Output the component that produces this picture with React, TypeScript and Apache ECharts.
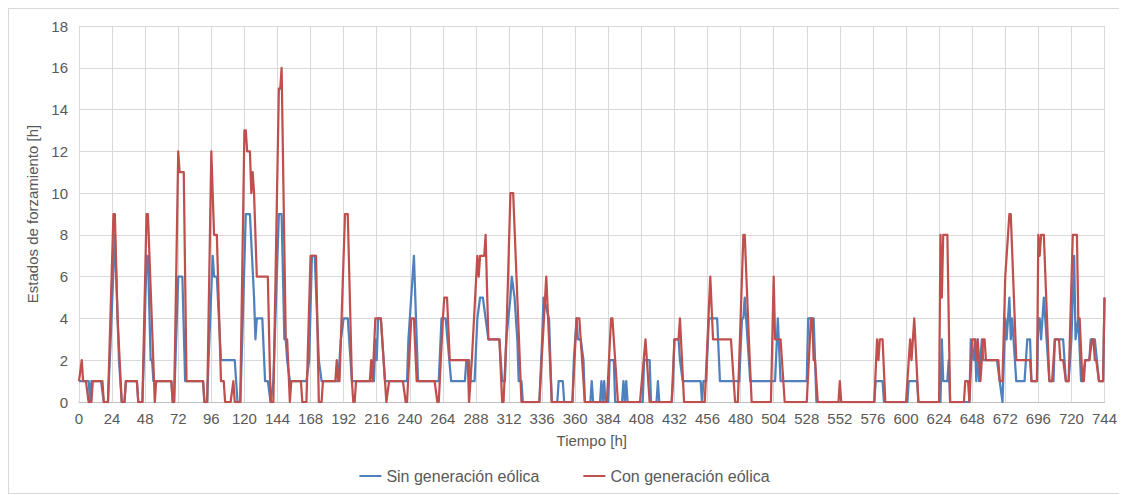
import React, { useEffect, useRef } from "react";
import * as echarts from "echarts";

// Hour ticks and value ticks
const xTicks = [0, 744, 24];
const yTicks = [0, 18, 2];

const seriesNames = ["Sin generación eólica", "Con generación eólica"];

// Vertices [hour, hours of forced state] — without wind generation
const sinPts: [number, number][] = [
  [0,1],[7,1],[8,0],[9,1],[16,1],[18,0],[21,0],[23,3],[26,8],[28,4],[29,2],[31,0],[33,0],[34,1],[42,1],[43,0],[46,0],[47,2],[49,7],[50,7],[52,2],[53,2],[54,1],[67,1],[68,0],[69,0],[70,2],[72,6],[75,6],[77,1],[90,1],[91,0],[93,0],[94,2],[97,7],[98,6],[100,6],[103,2],[113,2],[115,0],[117,0],[118,2],[121,9],[124,9],[127,5],[128,3],[129,4],[133,4],[135,1],[137,1],[139,0],[141,1],[145,9],[147,9],[149,3],[150,3],[151,2],[153,1],[165,1],[167,2],[169,7],[171,7],[174,2],[176,1],[188,1],[190,3],[192,4],[195,4],[198,1],[214,1],[215,3],[216,2],[217,4],[219,4],[222,1],[238,1],[239,3],[243,7],[246,1],[261,1],[263,4],[266,4],[270,1],[280,1],[281,2],[283,2],[284,1],[287,1],[289,4],[291,5],[293,5],[295,4],[297,3],[305,3],[307,1],[309,1],[310,3],[313,5],[314,6],[316,5],[318,3],[319,1],[321,1],[322,0],[334,0],[336,3],[337,5],[341,4],[343,0],[347,0],[348,1],[351,1],[352,0],[358,0],[359,2],[361,4],[362,3],[364,3],[366,2],[367,0],[371,0],[372,1],[373,0],[378,0],[379,1],[380,0],[381,1],[382,0],[384,0],[385,2],[388,2],[389,0],[394,0],[395,1],[396,0],[397,1],[398,0],[409,0],[410,2],[414,2],[415,0],[419,0],[420,1],[421,0],[430,0],[431,1],[432,3],[435,3],[436,2],[438,1],[451,1],[452,0],[453,1],[455,1],[457,4],[463,4],[465,1],[479,1],[481,4],[482,4],[483,5],[484,4],[485,3],[487,1],[503,1],[505,1],[507,4],[509,1],[528,1],[529,4],[533,4],[535,0],[577,0],[578,1],[583,1],[584,0],[601,0],[602,1],[608,1],[609,0],[625,0],[626,3],[627,1],[630,1],[631,2],[632,0],[646,0],[647,3],[649,2],[650,3],[651,1],[652,3],[653,1],[655,3],[656,2],[666,2],[668,1],[670,0],[672,4],[673,3],[675,5],[676,3],[677,4],[678,3],[680,1],[686,1],[688,3],[690,3],[691,1],[695,1],[696,4],[697,4],[698,3],[700,5],[702,3],[704,1],[707,1],[708,3],[714,3],[715,2],[716,1],[718,1],[720,3],[722,7],[723,3],[725,4],[727,1],[728,1],[730,2],[733,2],[734,3],[737,3],[740,1],[743,1],[744,5]
];

// Vertices [hour, hours of forced state] — with wind generation
const conPts: [number, number][] = [
  [0,1],[2,2],[3,1],[5,1],[7,0],[9,0],[10,1],[17,1],[18,0],[21,0],[25,9],[26,9],[28,4],[31,0],[33,0],[34,1],[42,1],[43,0],[46,0],[49,9],[50,9],[55,0],[56,1],[67,1],[68,0],[69,0],[72,12],[73,11],[76,11],[78,1],[90,1],[91,0],[93,0],[96,12],[98,8],[100,8],[103,1],[105,1],[106,0],[110,0],[112,1],[113,0],[117,0],[120,13],[121,13],[122,12],[124,12],[125,10],[126,11],[127,10],[129,6],[137,6],[139,0],[141,0],[145,15],[146,15],[147,16],[150,3],[151,3],[153,0],[154,1],[161,1],[162,0],[165,0],[168,7],[172,7],[174,0],[176,0],[177,1],[186,1],[187,2],[188,1],[189,1],[193,9],[195,9],[198,1],[199,0],[200,0],[201,1],[211,1],[212,2],[213,1],[215,4],[219,4],[222,1],[223,0],[225,1],[235,1],[237,0],[238,0],[241,4],[243,4],[245,1],[258,1],[260,0],[261,0],[264,4],[265,5],[267,5],[269,2],[282,2],[283,0],[285,2],[289,7],[290,6],[291,7],[294,7],[295,8],[297,3],[305,3],[307,0],[308,0],[310,3],[313,10],[315,10],[321,0],[334,0],[339,6],[343,0],[358,0],[361,4],[363,4],[367,0],[383,0],[386,4],[387,4],[391,0],[407,0],[411,3],[414,0],[430,0],[432,3],[435,3],[436,4],[439,0],[454,0],[456,3],[458,6],[460,3],[473,3],[476,0],[478,0],[481,6],[482,8],[483,8],[486,3],[488,0],[502,0],[504,6],[505,3],[509,3],[512,0],[528,0],[531,4],[532,4],[533,2],[534,2],[536,0],[551,0],[552,1],[553,0],[577,0],[579,3],[580,2],[581,3],[583,3],[585,0],[600,0],[603,3],[604,2],[606,4],[609,0],[624,0],[625,8],[626,5],[627,8],[630,8],[632,0],[642,0],[643,1],[645,1],[646,0],[648,3],[650,3],[651,2],[652,3],[654,1],[656,3],[657,3],[658,2],[667,2],[668,1],[670,1],[672,6],[675,9],[676,9],[680,2],[690,2],[691,1],[695,1],[696,8],[697,7],[698,8],[700,8],[704,1],[706,1],[707,2],[708,3],[711,3],[712,2],[714,2],[716,1],[718,1],[721,8],[724,8],[725,4],[726,4],[728,1],[729,1],[730,2],[733,2],[735,3],[736,3],[737,2],[738,2],[740,1],[743,1],[744,5]
];

const FONT = "'Liberation Sans', Arial, sans-serif";
const TXT = "#595959";

export default function App() {
  const ref = useRef<HTMLDivElement>(null);
  useEffect(() => {
    if (!ref.current) return;
    const chart = echarts.init(ref.current, null, { renderer: "svg" });
    chart.setOption({
      animation: false,
      backgroundColor: "#ffffff",
      textStyle: { fontFamily: FONT },
      grid: { left: 70, width: 1032, top: 17, bottom: 91, containLabel: false },
      legend: {
        bottom: 4,
        left: "center",
        icon: "rect",
        itemWidth: 22,
        itemHeight: 2,
        itemGap: 44,
        textStyle: { color: TXT, fontSize: 16, fontFamily: FONT },
        data: seriesNames,
      },
      xAxis: {
        type: "value",
        min: xTicks[0],
        max: xTicks[1],
        interval: xTicks[2],
        name: "Tiempo [h]",
        nameLocation: "middle",
        nameGap: 31,
        nameTextStyle: { color: TXT, fontSize: 15, fontFamily: FONT },
        axisLine: { show: true, lineStyle: { color: "#bfbfbf", width: 1 } },
        axisTick: { show: false },
        axisLabel: { color: TXT, fontSize: 15, margin: 9, fontFamily: FONT },
        splitLine: { show: true, lineStyle: { color: "#d9d9d9", width: 1 } },
      },
      yAxis: {
        type: "value",
        min: yTicks[0],
        max: yTicks[1],
        interval: yTicks[2],
        name: "Estados de forzamiento [h]",
        nameLocation: "middle",
        nameGap: 38,
        nameTextStyle: { color: TXT, fontSize: 15, fontFamily: FONT },
        axisLine: { show: false },
        axisTick: { show: false },
        axisLabel: { color: TXT, fontSize: 15, margin: 11, fontFamily: FONT },
        splitLine: { show: true, lineStyle: { color: "#d9d9d9", width: 1 } },
      },
      series: [
        {
          name: seriesNames[0],
          type: "line",
          data: sinPts,
          showSymbol: false,
          symbol: "none",
          lineStyle: { color: "#4f81bd", width: 2.25, join: "round" },
          itemStyle: { color: "#4f81bd" },
        },
        {
          name: seriesNames[1],
          type: "line",
          data: conPts,
          showSymbol: false,
          symbol: "none",
          lineStyle: { color: "#c0504d", width: 2.25, join: "round" },
          itemStyle: { color: "#c0504d" },
        },
      ],
    });
    return () => chart.dispose();
  }, []);
  return (
    <div
      style={{
        width: 1111,
        height: 484,
        border: "1px solid #d9d9d9",
        boxSizing: "content-box",
        background: "#fff",
      }}
    >
      <div ref={ref} style={{ width: 1111, height: 484 }} />
    </div>
  );
}
